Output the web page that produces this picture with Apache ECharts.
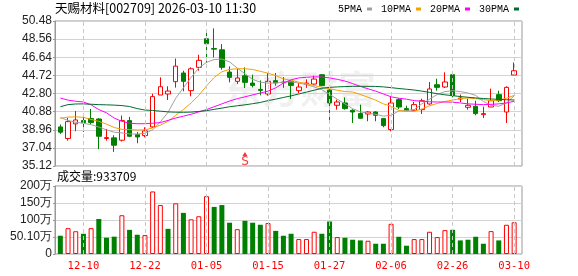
<!DOCTYPE html>
<html><head><meta charset="utf-8">
<script src="https://cdn.jsdelivr.net/npm/echarts@6/dist/echarts.min.js"></script>
<style>html,body{margin:0;padding:0;background:#fff}#c{width:578px;height:276px}</style>
</head><body><div id="c"></div>
<script>
const titleText = '天赐材料[002709] 2026-03-10 11:30';
const volTitle = '成交量:933709';
const dates = ['12-05','12-08','12-09','12-10','12-11','12-12','12-15','12-16','12-17','12-18','12-19','12-22','12-23','12-24','12-25','12-26','12-29','12-30','12-31','01-05','01-06','01-07','01-08','01-09','01-12','01-13','01-14','01-15','01-16','01-19','01-20','01-21','01-22','01-23','01-26','01-27','01-28','01-29','01-30','02-02','02-03','02-04','02-05','02-06','02-09','02-10','02-11','02-12','02-13','02-24','02-25','02-26','02-27','03-02','03-03','03-04','03-05','03-06','03-09','03-10'];
const openP  = [39.26,38.03,39.58,39.93,40.14,40.10,38.03,38.10,37.85,39.93,38.45,38.34,39.26,42.64,42.75,44.05,44.97,43.10,45.57,48.60,47.57,47.43,45.07,44.09,44.68,43.91,43.24,42.75,44.16,43.95,44.09,43.10,43.80,43.80,44.79,43.17,41.55,41.80,41.02,40.67,40.63,40.84,40.14,38.98,42.15,41.20,41.02,41.09,41.69,43.73,43.49,44.79,42.22,41.34,41.44,40.56,41.37,42.68,40.84,44.76];
const closeP = [38.70,39.82,40.00,39.72,39.72,38.27,38.13,37.32,39.93,38.27,38.20,38.84,42.47,43.52,43.06,45.70,44.09,45.42,46.31,48.07,47.50,45.57,44.51,44.44,43.98,43.66,43.13,44.09,43.94,44.02,43.66,43.49,43.90,44.33,43.63,41.80,41.90,41.20,40.84,40.18,40.84,40.49,39.40,41.80,41.37,40.99,41.62,42.04,43.28,43.45,44.02,42.57,42.32,41.55,40.67,40.67,42.04,42.04,43.45,45.21];
const lowP   = [38.52,37.81,38.80,38.73,39.51,36.90,37.81,36.62,37.71,38.17,37.53,38.17,39.15,42.64,42.11,43.42,43.03,42.50,45.21,46.05,46.62,45.32,43.98,43.80,43.38,43.45,42.61,42.57,43.63,43.40,42.22,42.85,43.40,43.73,43.56,39.86,41.09,41.09,39.68,40.14,39.86,39.86,39.22,38.80,41.16,40.92,40.92,40.63,41.62,43.10,43.38,42.39,41.90,41.09,40.49,40.21,41.37,41.90,39.68,44.76];
const highP  = [39.51,40.21,40.95,40.46,41.16,40.18,39.05,38.38,40.46,40.32,38.73,39.22,42.78,44.51,43.56,46.50,45.21,45.57,46.90,49.40,49.70,48.03,45.67,45.39,45.57,44.79,44.19,44.97,44.97,44.53,44.23,43.91,44.30,44.68,44.86,43.31,42.15,42.39,41.13,41.62,40.92,40.92,40.21,42.50,42.32,41.51,41.90,42.25,44.02,44.37,45.04,44.85,42.68,42.25,42.04,41.41,43.31,43.10,43.56,46.09];
const ma5  = [40.25,39.95,39.75,39.65,39.50,39.25,38.95,38.70,38.62,38.52,38.50,38.58,38.95,39.80,40.80,42.30,43.40,44.50,45.50,46.10,46.40,46.45,46.15,45.50,44.90,44.30,44.00,43.90,43.90,44.00,44.05,43.90,43.75,43.50,43.20,42.70,42.20,41.70,41.20,40.85,40.70,40.60,40.40,40.50,40.95,41.00,41.10,41.70,42.20,42.70,43.00,43.10,43.00,42.85,42.60,41.95,41.55,41.45,41.80,42.55];
const ma10 = [40.18,40.30,40.33,40.28,40.05,39.85,39.55,39.20,39.00,38.98,38.93,38.95,39.15,39.45,39.85,40.50,41.10,41.80,42.60,43.60,44.50,45.10,45.35,45.42,45.42,45.35,45.15,44.95,44.70,44.35,44.20,44.00,43.85,43.65,43.45,43.30,43.15,43.00,42.96,42.70,42.40,42.10,41.70,41.45,41.00,40.90,40.92,41.15,41.50,41.75,41.95,42.10,42.25,42.32,42.25,42.15,42.04,42.10,42.30,42.60];
const ma20 = [42.32,42.10,41.98,41.90,41.60,41.10,40.75,40.20,39.85,39.65,39.60,39.60,39.65,39.72,39.95,40.20,40.40,40.60,40.85,41.10,41.40,41.70,42.00,42.25,42.45,42.65,42.85,43.05,43.40,43.90,44.25,44.45,44.52,44.57,44.55,44.45,44.30,44.12,43.85,43.55,43.30,43.05,42.75,42.45,42.30,42.20,42.05,41.97,41.92,41.90,41.90,41.88,41.80,41.70,41.66,41.62,41.65,41.70,41.80,41.97];
const ma30 = [41.40,41.62,41.69,41.70,41.66,41.62,41.60,41.57,41.52,41.42,41.20,41.05,41.00,40.93,40.85,40.82,40.81,40.83,40.90,40.98,41.12,41.25,41.40,41.50,41.60,41.72,41.85,42.05,42.20,42.38,42.55,42.75,42.95,43.15,43.35,43.45,43.50,43.53,43.56,43.56,43.56,43.55,43.50,43.42,43.33,43.25,43.17,43.05,42.92,42.78,42.66,42.57,42.48,42.40,42.33,42.27,42.22,42.18,42.14,42.11];
const volume = [53.7,76,67,59.5,76,103,48,51,114,71,56.6,55.6,184,144,74,149,121,102,111,170,138.5,144,92,73,97.6,92,86,91,68,53.7,59.5,43.9,43.9,65.4,59.5,95.6,49.8,47.8,42,40,39,30.2,30.2,88.8,50.7,24.4,43.9,43.9,65.4,49.8,70.2,71.2,40,42,50.7,30.2,67.3,40,85.9,93.37];
const volUp = [0,1,1,0,1,0,0,0,1,0,0,1,1,1,0,1,0,1,1,1,0,0,0,1,0,0,0,1,0,0,0,1,1,1,0,0,1,0,0,0,1,0,0,1,0,0,1,1,1,1,1,0,0,0,0,0,1,0,1,1];
const priceTicks = ['35.12','37.04','38.96','40.88','42.80','44.72','46.64','48.56','50.48'];
const volTicks = ['0','50.10万','100万','150万','200万'];
const xLabelDates = ['12-10','12-22','01-05','01-15','01-27','02-06','02-26','03-10'];
const signalDates = ['01-12'];
const signalText = ['S'];
const maNames = ['5PMA','10PMA','20PMA','30PMA'];

const RED = '#ff0000', GREEN = '#008000';
const PMIN = 35.12, PMAX = 50.48;
const chart = echarts.init(document.getElementById('c'), null, {renderer:'canvas'});
const vLines = {
  silent: true, symbol: ['none','none'], label: {show:false},
  lineStyle: {color:'#c8c8c8', type:[4,3], width:1},
  data: xLabelDates.map(d => ({xAxis: d}))
};
const axisFont = {fontFamily:'Liberation Sans', fontSize:12, color:'#222'};
const maColors = ['#a0a0a0','#f5a000','#ff00ff','#006b2d'];
const maData = [ma5, ma10, ma20, ma30];

chart.setOption({
  animation: false,
  title: [
    {text: titleText, left: 55, top: 2, padding: 0, textStyle:{fontFamily:'Noto Sans CJK SC', fontSize:12.5, fontWeight:'normal', color:'#000'}},
    {text: volTitle, left: 57, top: 170, padding: 0, textStyle:{fontFamily:'Noto Sans CJK SC', fontSize:12, fontWeight:'normal', color:'#000'}}
  ],
  legend: {
    left: 338, top: 4, padding: 0, itemWidth: 5, itemHeight: 3, itemGap: 9, align: 'right', icon: 'rect',
    textStyle: {fontFamily:'Liberation Mono', fontSize: 10, color:'#000'},
    data: maNames
  },
  graphic: [
    {type:'text', left: 224, top: 70, z: 0, silent: true,
     style:{text:'东方财富', fontSize: 38, fontWeight:'bold', fontFamily:'Noto Sans CJK SC', fill:'rgba(0,0,0,0.06)'}}
  ],
  grid: [
    {left:55, top:21, width:467, height:145, show:true, borderColor:'#999', borderWidth:1},
    {left:56.5, top:21, width:461.5, height:145},
    {left:55, top:186, width:467, height:68, show:true, borderColor:'#999', borderWidth:1},
    {left:56.5, top:186, width:461.5, height:68}
  ],
  xAxis: [
    {gridIndex:0, type:'value', min:0, max:1, show:false},
    {gridIndex:1, type:'category', data:dates, boundaryGap:true, show:false},
    {gridIndex:2, type:'value', min:0, max:1, show:false},
    {gridIndex:3, type:'category', data:dates, boundaryGap:true,
     axisLine:{show:false}, axisTick:{show:false}, splitLine:{show:false},
     axisLabel:{show:true, interval:(i, v) => xLabelDates.includes(v), margin: 7,
       fontFamily:'DejaVu Sans Mono', fontSize:10.5, color:RED}}
  ],
  yAxis: [
    {gridIndex:0, type:'value', min:0, max:8, interval:1,
     axisLine:{show:true, lineStyle:{color:'#999'}}, axisTick:{show:true, length:2, lineStyle:{color:'#999'}},
     splitLine:{show:true, lineStyle:{color:'#d3d3d3', width:1}},
     axisLabel:Object.assign({margin:3, formatter:v => priceTicks[v]}, axisFont)},
    {gridIndex:1, type:'value', min:PMIN, max:PMAX, show:false, splitLine:{show:false}},
    {gridIndex:2, type:'value', min:0, max:4, interval:1,
     axisLine:{show:true, lineStyle:{color:'#999'}}, axisTick:{show:true, length:2, lineStyle:{color:'#999'}},
     splitLine:{show:true, lineStyle:{color:'#d3d3d3', width:1}},
     axisLabel:Object.assign({margin:3, formatter:v => volTicks[v]}, axisFont)},
    {gridIndex:3, type:'value', min:0, max:200, show:false, splitLine:{show:false}}
  ],
  series: [
    {type:'candlestick', name:'K', xAxisIndex:1, yAxisIndex:1, barWidth:5, z:3,
     itemStyle:{color:'#fff', color0:GREEN, borderColor:RED, borderColor0:GREEN, borderWidth:1},
     data: dates.map((d,i) => [openP[i], closeP[i], lowP[i], highP[i]]),
     markLine: vLines},
    ...maNames.map((n, k) => ({
      type:'line', name:n, xAxisIndex:1, yAxisIndex:1, data: maData[k], showSymbol:false, symbol:'none',
      z:4, lineStyle:{color:maColors[k], width:1}, itemStyle:{color:maColors[k]}
    })),
    {type:'scatter', name:'sig', xAxisIndex:1, yAxisIndex:1, z:5,
     symbol:'triangle', symbolSize:[5,4], symbolOffset:[0,-12],
     itemStyle:{color:RED},
     label:{show:true, position:'bottom', distance:0, color:RED, fontFamily:'DejaVu Sans', fontSize:12,
       formatter: p => signalText[p.dataIndex]},
     data: signalDates.map(d => [d, PMIN])},
    {type:'bar', name:'vol', xAxisIndex:3, yAxisIndex:3, barWidth:5, z:3,
     data: volume.map((v,i) => ({value:v, itemStyle: volUp[i] ? {color:'#fff', borderColor:RED, borderWidth:1} : {color:GREEN}})),
     markLine: vLines}
  ]
});
</script></body></html>
